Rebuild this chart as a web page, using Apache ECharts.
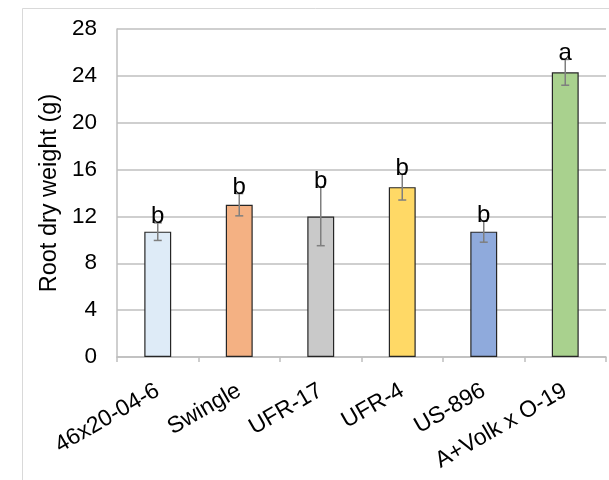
<!DOCTYPE html>
<html>
<head>
<meta charset="utf-8">
<script src="https://cdn.jsdelivr.net/npm/echarts@6/dist/echarts.min.js"></script>
<style>html,body{margin:0;padding:0;background:#fff;}#c{width:609px;height:480px;}</style>
</head>
<body>
<div id="c"></div>
<script>
const categories = ['46x20-04-6', 'Swingle', 'UFR-17', 'UFR-4', 'US-896', 'A+Volk x O-19'];
const means = [10.7, 13.0, 12.0, 14.5, 10.7, 24.3];
const errors = [0.75, 0.95, 2.5, 1.1, 0.9, 1.1];
const letters = ['b', 'b', 'b', 'b', 'b', 'a'];
const yTicks = [0, 4, 8, 12, 16, 20, 24, 28];
const barColors = ['#DEEBF7', '#F4B183', '#C9C9C9', '#FFD966', '#8FAADC', '#A9D18E'];

const FONT = 'Liberation Sans, Arial, sans-serif';
const chart = echarts.init(document.getElementById('c'), null, {renderer: 'canvas'});

const errData = means.map((m, i) => [i, m - errors[i], m + errors[i], letters[i]]);

chart.setOption({
  animation: false,
  backgroundColor: '#fff',
  graphic: [
    {type: 'line', shape: {x1: 22.5, y1: 8.5, x2: 609, y2: 8.5}, style: {stroke: '#D9D9D9', lineWidth: 1}},
    {type: 'line', shape: {x1: 22.5, y1: 8.5, x2: 22.5, y2: 480}, style: {stroke: '#D9D9D9', lineWidth: 1}}
  ],
  grid: {left: 117, top: 29, right: 3, bottom: 123, containLabel: false},
  xAxis: {
    type: 'category',
    data: categories,
    axisLine: {lineStyle: {color: '#BFBFBF', width: 1.5}},
    axisTick: {show: true, length: 5, lineStyle: {color: '#BFBFBF', width: 1.5}},
    axisLabel: {rotate: 30, margin: 32, color: '#000', fontSize: 23, fontFamily: FONT, interval: 0}
  },
  yAxis: {
    type: 'value',
    min: 0, max: 28, interval: 4,
    name: 'Root dry weight (g)',
    nameLocation: 'middle',
    nameGap: 44,
    nameTextStyle: {color: '#000', fontSize: 23.5, fontFamily: FONT},
    axisLine: {show: true, lineStyle: {color: '#BFBFBF', width: 1.5}},
    axisTick: {show: false},
    axisLabel: {
      margin: 20, color: '#000', fontSize: 22.5, fontFamily: FONT,
      formatter: v => (yTicks.indexOf(v) >= 0 ? String(v) : '')
    },
    splitLine: {lineStyle: {color: '#BFBFBF', width: 1.5}}
  },
  series: [
    {
      type: 'bar',
      data: means.map((v, i) => ({value: v, itemStyle: {color: barColors[i]}})),
      barWidth: '33%',
      itemStyle: {borderColor: '#262626', borderWidth: 1.2}
    },
    {
      type: 'custom',
      data: errData,
      z: 10,
      renderItem: function (params, api) {
        const x = api.coord([api.value(0), api.value(1)])[0];
        const yLo = api.coord([api.value(0), api.value(1)])[1];
        const yHi = api.coord([api.value(0), api.value(2)])[1];
        const cap = 4;
        const st = {stroke: '#7F7F7F', lineWidth: 1.5};
        return {
          type: 'group',
          children: [
            {type: 'line', shape: {x1: x, y1: yLo, x2: x, y2: yHi}, style: st},
            {type: 'line', shape: {x1: x - cap, y1: yLo, x2: x + cap, y2: yLo}, style: st},
            {type: 'line', shape: {x1: x - cap, y1: yHi, x2: x + cap, y2: yHi}, style: st},
            {type: 'text', style: {text: letters[params.dataIndex], x: x, y: yHi + 6, align: 'center', verticalAlign: 'bottom', fill: '#000', fontSize: 24, fontFamily: FONT}}
          ]
        };
      }
    }
  ]
});
</script>
</body>
</html>
